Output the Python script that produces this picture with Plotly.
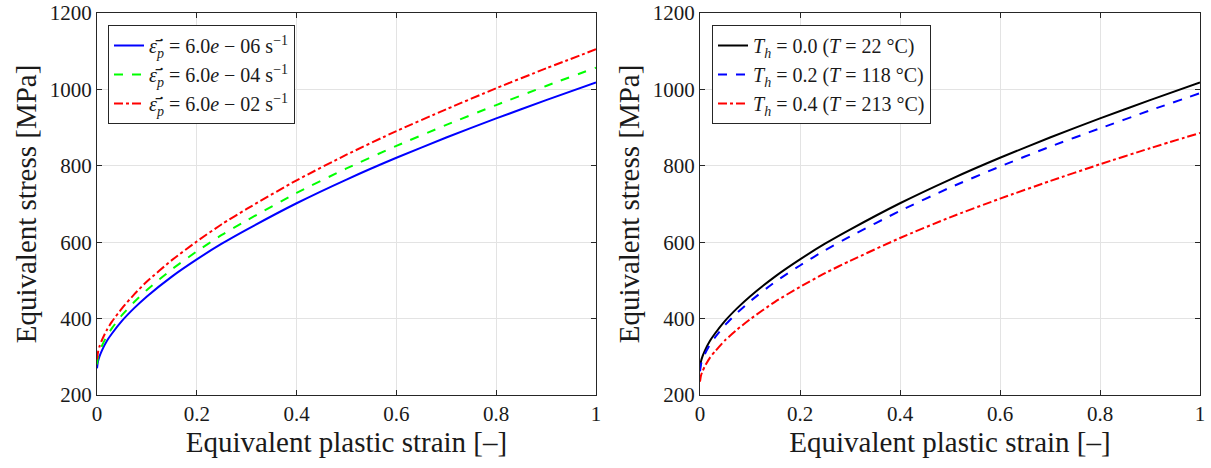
import plotly.graph_objects as go

# Equivalent plastic strain sample points
strain = [0, 0.002, 0.005, 0.01, 0.02, 0.03, 0.05, 0.075, 0.1, 0.15, 0.2, 0.25,
          0.3, 0.4, 0.5, 0.6, 0.7, 0.8, 0.9, 1.0]

# Strain-rate dependence (equivalent stress, MPa)
rate_1 = [270, 288, 301, 317, 342, 361, 394, 428, 458, 510, 555, 596,
          633, 702, 764, 821, 874, 924, 972, 1018]
rate_2 = [280, 299, 312, 329, 355, 375, 409, 444, 475, 529, 576, 619,
          657, 729, 793, 852, 907, 959, 1009, 1057]
rate_3 = [293, 312, 327, 344, 371, 392, 427, 464, 497, 553, 602, 647,
          687, 762, 829, 891, 948, 1003, 1055, 1105]

# Temperature dependence (equivalent stress, MPa)
temp_1 = [270, 288, 301, 317, 342, 361, 394, 428, 458, 510, 555, 596,
          633, 702, 764, 821, 874, 924, 972, 1018]
temp_2 = [262, 280, 293, 308, 332, 351, 383, 416, 445, 496, 539, 579,
          615, 682, 743, 798, 850, 898, 945, 990]
temp_3 = [235, 251, 262, 276, 298, 314, 343, 372, 398, 444, 483, 519,
          551, 611, 665, 714, 760, 804, 846, 886]

eps = "ε\u0304\u0307"
rate_names = [f"<i>{eps}</i><sub><i>p</i></sub> = 6.0<i>e</i> − 06 s<sup>−1</sup>",
              f"<i>{eps}</i><sub><i>p</i></sub> = 6.0<i>e</i> − 04 s<sup>−1</sup>",
              f"<i>{eps}</i><sub><i>p</i></sub> = 6.0<i>e</i> − 02 s<sup>−1</sup>"]
temp_names = ["<i>T</i><sub><i>h</i></sub> = 0.0 (<i>T</i> = 22 °C)",
              "<i>T</i><sub><i>h</i></sub> = 0.2 (<i>T</i> = 118 °C)",
              "<i>T</i><sub><i>h</i></sub> = 0.4 (<i>T</i> = 213 °C)"]

x_ticks = [0, 0.2, 0.4, 0.6, 0.8, 1]
x_tick_text = ["0", "0.2", "0.4", "0.6", "0.8", "1"]
y_ticks = [200, 400, 600, 800, 1000, 1200]

FONT = "Liberation Serif"

fig = go.Figure()

styles_left = [("#0000ff", "solid"), ("#00ff00", "dash"), ("#ff0000", "dashdot")]
for ys, name, (col, dash) in zip([rate_1, rate_2, rate_3], rate_names, styles_left):
    fig.add_trace(go.Scatter(x=strain, y=ys, name=name, mode="lines",
                             line=dict(color=col, width=2, dash=dash,
                                       shape="spline", smoothing=0.6),
                             xaxis="x", yaxis="y", legend="legend"))

styles_right = [("#000000", "solid"), ("#0000ff", "dash"), ("#ff0000", "dashdot")]
for ys, name, (col, dash) in zip([temp_1, temp_2, temp_3], temp_names, styles_right):
    fig.add_trace(go.Scatter(x=strain, y=ys, name=name, mode="lines",
                             line=dict(color=col, width=2, dash=dash,
                                       shape="spline", smoothing=0.6),
                             xaxis="x2", yaxis="y2", legend="legend2"))

axis_common = dict(showline=True, linecolor="#262626", linewidth=1, mirror="ticks",
                   ticks="inside", ticklen=5, tickcolor="#262626",
                   showgrid=True, gridcolor="#e3e3e3", gridwidth=1, zeroline=False,
                   automargin=False,
                   tickfont=dict(family=FONT, size=21, color="#1a1a1a"))

xa = dict(range=[0, 1], tickvals=x_ticks, ticktext=x_tick_text,
          title=dict(text="Equivalent plastic strain [–]",
                     font=dict(family=FONT, size=29, color="#1a1a1a"), standoff=6),
          **axis_common)
ya = dict(range=[200, 1200], tickvals=y_ticks,
          title=dict(text="Equivalent stress [MPa]",
                     font=dict(family=FONT, size=29, color="#1a1a1a"), standoff=4),
          **axis_common)

W = 1103.0
H = 382.0
legend_common = dict(bgcolor="white", bordercolor="#262626", borderwidth=1,
                     font=dict(family=FONT, size=20, color="#1a1a1a"),
                     xanchor="left", yanchor="top", tracegroupgap=0)

fig.update_layout(
    width=1211, height=468,
    margin=dict(l=97, r=11, t=13, b=73),
    paper_bgcolor="white", plot_bgcolor="white",
    xaxis=dict(domain=[0, 499 / W], anchor="y", **xa),
    yaxis=dict(domain=[0, 1], anchor="x", **ya),
    xaxis2=dict(domain=[603 / W, 1], anchor="y2", **xa),
    yaxis2=dict(domain=[0, 1], anchor="x2", **ya),
    legend=dict(x=11 / W, y=1 - 12 / H, **legend_common),
    legend2=dict(x=615 / W, y=1 - 12 / H, **legend_common),
    showlegend=True,
)

fig.write_html("out.html")
